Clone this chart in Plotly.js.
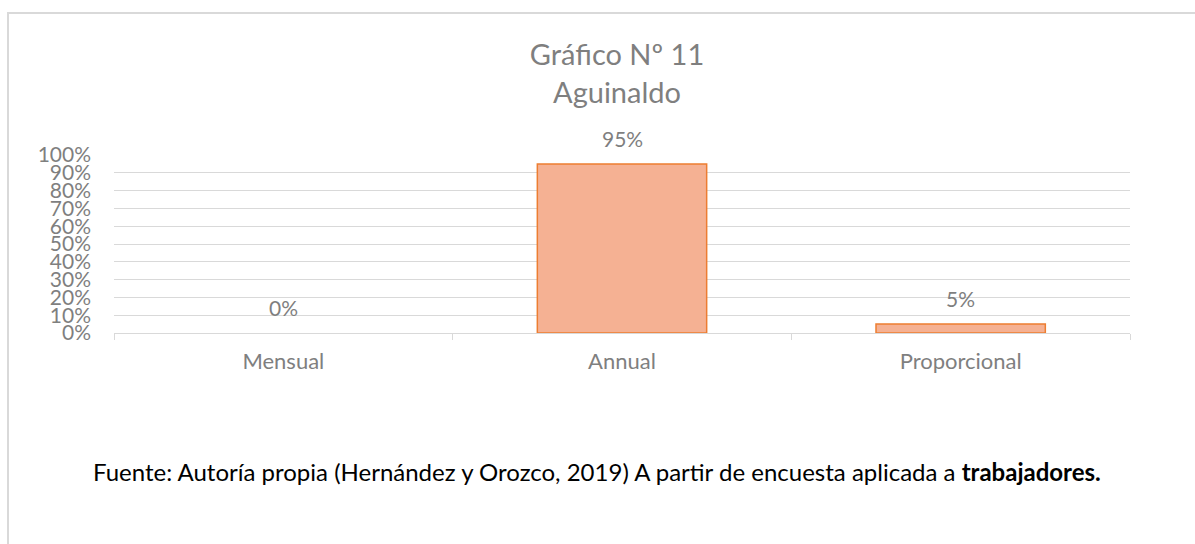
<!DOCTYPE html>
<html>
<head>
<meta charset="utf-8">
<script src="https://cdn.plot.ly/plotly-3.0.1.min.js"></script>
<style>
  html, body { margin: 0; padding: 0; background: #ffffff; overflow: hidden; }
  #frame { position: absolute; left: 7px; top: 12px; width: 1210px; height: 540px;
           border: 2px solid #d9d9d9; box-sizing: border-box; background: #fff; }
  #chart { position: absolute; left: 0; top: 0; }
</style>
</head>
<body>
<div id="frame"><div id="chart"></div></div>
<script>
const categories = ["Mensual", "Annual", "Proporcional"];
const values = [0, 0.95, 0.05];
const valueLabels = ["0%", "95%", "5%"];
const titleLines = ["Gráfico Nº 11", "Aguinaldo"];
const caption = "Fuente: Autoría propia (Hernández y Orozco, 2019) A partir de encuesta aplicada a <b>trabajadores.</b>";

const FONT = "Lato, 'Open Sans', sans-serif";
const GREY = "#7f7f7f";

const trace = {
  type: "bar",
  x: categories,
  y: values,
  width: 0.5,
  marker: {
    color: "#F5B193",
    line: { color: "#ED7D31", width: values.map(v => v > 0 ? 1.5 : 0) }
  },
  hoverinfo: "skip"
};

const annotations = categories.map((c, i) => ({
  x: c, y: values[i], xref: "x", yref: "y",
  text: valueLabels[i], showarrow: false,
  yanchor: "bottom", yshift: 11,
  font: { family: FONT, size: 21, color: GREY }
}));

annotations.push({
  xref: "paper", yref: "paper", x: 0.475, y: -0.78,
  xanchor: "center", yanchor: "middle",
  text: caption, showarrow: false,
  font: { family: FONT, size: 24, color: "#000000" }
});

const layout = {
  width: 1210, height: 540,
  margin: { l: 105, r: 89, t: 141, b: 221 },
  paper_bgcolor: "rgba(0,0,0,0)",
  plot_bgcolor: "rgba(0,0,0,0)",
  showlegend: false,
  title: {
    text: titleLines.join("<br>"),
    x: 0.5025, xref: "container", xanchor: "center",
    y: 0.905, yref: "container", yanchor: "middle",
    font: { family: FONT, size: 29, color: GREY }
  },
  xaxis: {
    type: "category",
    showgrid: false,
    showline: true, linecolor: "#d9d9d9", linewidth: 1,
    ticks: "outside", tickson: "boundaries", ticklen: 6, tickcolor: "#d9d9d9",
    tickfont: { family: FONT, size: 22, color: GREY },
    ticklabelstandoff: 9
  },
  yaxis: {
    range: [0, 1],
    dtick: 0.1,
    tickformat: ".0%",
    showgrid: true, gridcolor: "#d9d9d9", gridwidth: 1,
    zeroline: false, showline: false, ticks: "",
    tickfont: { family: FONT, size: 21, color: GREY },
    ticklabelstandoff: 22
  },
  annotations: annotations
};

Plotly.newPlot("chart", [trace], layout, { displayModeBar: false, staticPlot: true });
</script>
</body>
</html>
